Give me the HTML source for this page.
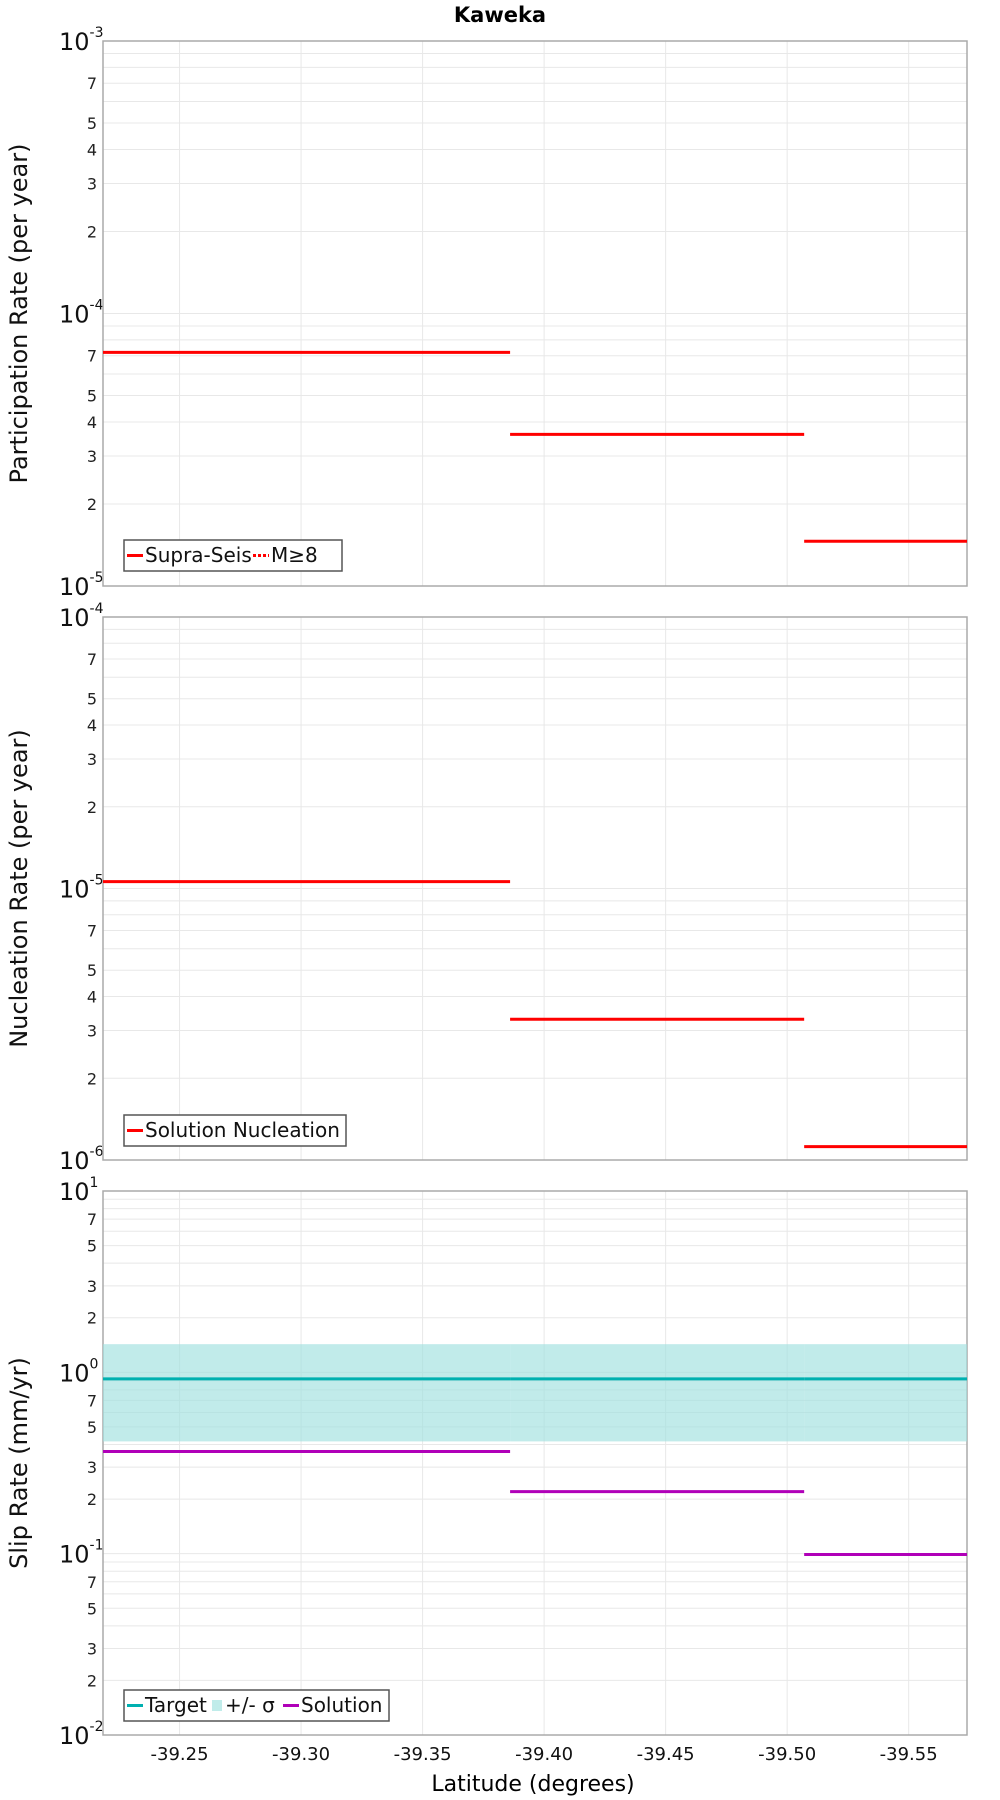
<!DOCTYPE html>
<html><head><meta charset="utf-8"><style>
html,body{margin:0;padding:0;background:#fff;}
svg{display:block;font-family:"DejaVu Sans","Liberation Sans",sans-serif;}
</style></head><body>
<svg id="chart" width="1000" height="1800" viewBox="0 0 1000 1800" xmlns="http://www.w3.org/2000/svg">
<text x="500" y="22" text-anchor="middle" font-size="21" font-weight="bold">Kaweka</text>
<text x="533" y="1791" text-anchor="middle" font-size="22">Latitude (degrees)</text>
</svg>
<script>
// data
const xTicks = [-39.25, -39.30, -39.35, -39.40, -39.45, -39.50, -39.55];
const xTickLabels = ["-39.25","-39.30","-39.35","-39.40","-39.45","-39.50","-39.55"];
const segStarts = [-39.2185, -39.386, -39.507];
const segEnds = [-39.386, -39.507, -39.574];
const participation = [7.2e-5, 3.6e-5, 1.46e-5];
const nucleation = [1.06e-5, 3.3e-6, 1.12e-6];
const slipSolution = [0.366, 0.22, 0.099];
const slipTarget = [0.92, 0.92, 0.92];
const slipUpper = [1.43, 1.43, 1.43];
const slipLower = [0.416, 0.416, 0.416];

const NS = "http://www.w3.org/2000/svg";
const svg = document.getElementById("chart");
const L = 103, R = 967, X0 = -39.2185, X1 = -39.574;
function xs(v){ return L + (v - X0) / (X1 - X0) * (R - L); }
function mk(tag, attrs, parent){
  const e = document.createElementNS(NS, tag);
  for (const k in attrs) e.setAttribute(k, attrs[k]);
  (parent || svg).appendChild(e);
  return e;
}
function panel(top, bottom, dMin, dMax, title, name, minorLabels){
  const g = mk("g", {});
  
  
  const ys = v => bottom - (Math.log10(v) - dMin) / (dMax - dMin) * (bottom - top);
  for (let d = dMin; d < dMax; d++) {
    for (let m = 2; m <= 9; m++) {
      const v = m * Math.pow(10, d);
      const y = ys(v);
      const gl = mk("line", {x1:L, x2:R, y1:y, y2:y, stroke:"#e8e8e8", "stroke-width":1}, g);
      
      
      if (minorLabels.indexOf(m) >= 0) {
        const t = mk("text", {x:97, y:y+6, "text-anchor":"end", "font-size":16, fill:"#222"}, g);
        t.textContent = m;
        
        
      }
    }
  }
  for (let d = dMin; d <= dMax; d++) {
    const y = ys(Math.pow(10, d));
    if (d > dMin && d < dMax) {
      const gl = mk("line", {x1:L, x2:R, y1:y, y2:y, stroke:"#e8e8e8", "stroke-width":1}, g);
      
      
    }
    const t = mk("text", {x:59, y:y+9, "font-size":24, fill:"#111"}, g);
    
    
    t.appendChild(document.createTextNode("10"));
    const s = mk("tspan", {dy:-13, "font-size":14}, t);
    s.textContent = d;
  }
  xTicks.forEach((v) => {
    const x = xs(v);
    const gl = mk("line", {x1:x, x2:x, y1:top, y2:bottom, stroke:"#e8e8e8", "stroke-width":1}, g);
    
    
  });
  const fr = mk("rect", {x:L, y:top, width:R-L, height:bottom-top, fill:"none", stroke:"#aaa", "stroke-width":1.5}, g);
  
  
  const yt = mk("text", {x:0, y:0, transform:`translate(27,${(top+bottom)/2}) rotate(-90)`, "text-anchor":"middle", "font-size":24, fill:"#111"}, g);
  yt.textContent = title;
  
  
  return {g, ys};
}
function segs(p, vals, color, name){
  vals.forEach((v, i) => {
    const y = p.ys(v);
    const l = mk("line", {x1:xs(segStarts[i]), x2:xs(segEnds[i]), y1:y, y2:y, stroke:color, "stroke-width":3}, p.g);
    
    
  });
}
function legend(p, x, y, w, items, name){
  const lg = mk("g", {}, p.g);
  
  
  mk("rect", {x:x, y:y, width:w, height:31, fill:"#fff", stroke:"#555", "stroke-width":1.5}, lg);
  let cx = x + 3;
  items.forEach(it => {
    if (it.band) mk("rect", {x:cx+1, y:y+10, width:10, height:11, fill:it.color}, lg);
    else mk("line", {x1:cx, x2:cx+16, y1:y+15.5, y2:y+15.5, stroke:it.color, "stroke-width":3, "stroke-dasharray":it.dash||"none"}, lg);
    const t = mk("text", {x:cx+(it.band?14:18), y:y+22, "font-size":20, fill:"#111"}, lg);
    t.textContent = it.label;
    
    
    cx += (it.band?14:18) + it.w;
  });
}

const p1 = panel(41, 586, -5, -3, "Participation Rate (per year)", "participation", [2,3,4,5,7]);
segs(p1, participation, "#f00", "participation");
legend(p1, 124, 540, 218, [{color:"#f00",label:"Supra-Seis",w:108},{color:"#f00",dash:"3,2",label:"M≥8",w:60}], "participation-legend");

const p2 = panel(617, 1160, -6, -4, "Nucleation Rate (per year)", "nucleation", [2,3,4,5,7]);
segs(p2, nucleation, "#f00", "nucleation");
legend(p2, 124, 1115, 222, [{color:"#f00",label:"Solution Nucleation",w:200}], "nucleation-legend");

const p3 = panel(1191, 1735, -2, 1, "Slip Rate (mm/yr)", "slip", [2,3,5,7]);
slipUpper.forEach((v, i) => {
  const y1 = p3.ys(v), y2 = p3.ys(slipLower[i]);
  const r = mk("rect", {x:xs(segStarts[i]), y:y1, width:xs(segEnds[i])-xs(segStarts[i]), height:y2-y1, fill:"#9fe0de", "fill-opacity":0.65}, p3.g);
  
  
});
segs(p3, slipTarget, "#00b0b0", "target");
segs(p3, slipSolution, "#b000b8", "solution");
legend(p3, 124, 1690, 265, [{color:"#00b0b0",label:"Target",w:66},{color:"#c0ecea",band:true,label:"+/- σ",w:58},{color:"#b000b8",label:"Solution",w:84}], "slip-legend");

xTicks.forEach((v, i) => {
  const t = mk("text", {x:xs(v), y:1760, "text-anchor":"middle", "font-size":18, fill:"#111"});
  t.textContent = xTickLabels[i];
  
  
});
</script>
</body></html>
